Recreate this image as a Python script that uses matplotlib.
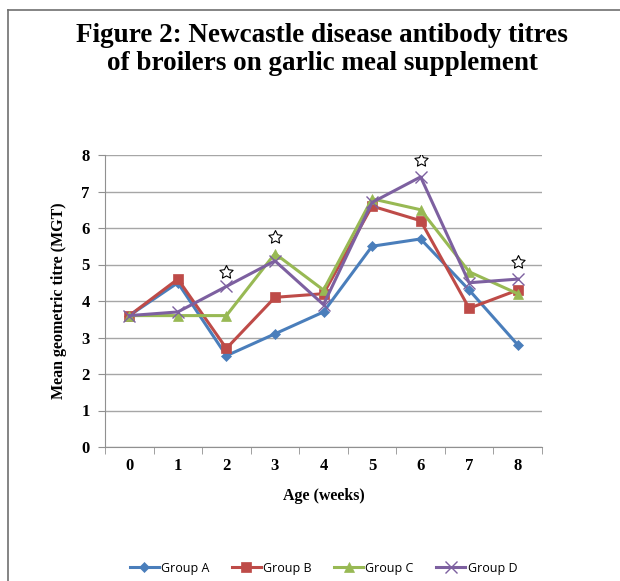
import numpy as np
import matplotlib.pyplot as plt
from matplotlib.lines import Line2D

weeks = [0, 1, 2, 3, 4, 5, 6, 7, 8]
group_a = [3.6, 4.5, 2.5, 3.1, 3.7, 5.5, 5.7, 4.3, 2.8]
group_b = [3.6, 4.6, 2.7, 4.1, 4.2, 6.6, 6.2, 3.8, 4.3]
group_c = [3.6, 3.6, 3.6, 5.3, 4.3, 6.8, 6.5, 4.8, 4.2]
group_d = [3.6, 3.7, 4.4, 5.1, 3.9, 6.7, 7.4, 4.5, 4.6]
star_weeks = [2, 3, 6, 8]
star_vals = [4.8, 5.75, 7.85, 5.08]

fig = plt.figure(figsize=(6.2, 5.81), dpi=100)
ax = fig.add_axes([105 / 620, 1 - 447 / 581, (542 - 105) / 620, (447 - 155) / 581])

# page border lines (left and top)
fig.add_artist(Line2D([8 / 620, 8 / 620], [0, 1 - 10 / 581], color='#707070', lw=1.2))
fig.add_artist(Line2D([8 / 620, 1], [1 - 10 / 581, 1 - 10 / 581], color='#707070', lw=1.2))

serif = 'Liberation Serif'
fig.text(322 / 620, 1 - 36 / 581, 'Figure 2: Newcastle disease antibody titres', ha='center', va='center',
         fontsize=19.5, fontweight='bold', family=serif)
fig.text(322 / 620, 1 - 63 / 581, 'of broilers on garlic meal supplement', ha='center', va='center',
         fontsize=19.5, fontweight='bold', family=serif)

series = [
    ('Group A', group_a, '#4a7ebb', 'D', 5),
    ('Group B', group_b, '#be4b48', 's', 7),
    ('Group C', group_c, '#98b954', '^', 7),
    ('Group D', group_d, '#7d60a0', 'x', 8),
]
for name, vals, col, mk, ms in series:
    ax.plot(weeks, vals, color=col, lw=2.2, marker=mk, markersize=ms, label=name,
            markeredgewidth=1 if mk == 'x' else 0.5)

ax.scatter(star_weeks, star_vals, marker=(5, 1), s=100, facecolor='white', edgecolor='black', lw=0.8, zorder=5)

ax.set_xlim(-0.5, 8.5)
ax.set_ylim(0, 8)
ax.set_yticks(range(0, 9))
ax.set_xticks(weeks)
ax.set_xticks(np.arange(-0.5, 9, 1), minor=True)
ax.tick_params(axis='x', which='major', length=0, pad=8)
ax.tick_params(axis='x', which='minor', length=5, color='#909090', direction='out')
ax.tick_params(axis='y', length=5, color='#909090', pad=6)
for lbl in ax.get_xticklabels() + ax.get_yticklabels():
    lbl.set_family(serif)
    lbl.set_fontweight('bold')
    lbl.set_fontsize(12)

ax.grid(axis='y', color='#a6a6a6', lw=1)
ax.set_axisbelow(True)
for s in ['top', 'right']:
    ax.spines[s].set_visible(False)
ax.spines['left'].set_color('#909090')
ax.spines['bottom'].set_color('#909090')

ax.set_xlabel('Age (weeks)', family=serif, fontweight='bold', fontsize=11.5, labelpad=10)
ax.set_ylabel('Mean geometric titre (MGT)', family=serif, fontweight='bold', fontsize=11.5, labelpad=10)

ax.legend(loc='center', bbox_to_anchor=(0.5, -0.415), ncol=4, frameon=False,
          prop={'family': 'Open Sans', 'size': 9}, handlelength=2.3, handletextpad=0.2,
          columnspacing=1.8)

fig.savefig('out.png', dpi=100)
